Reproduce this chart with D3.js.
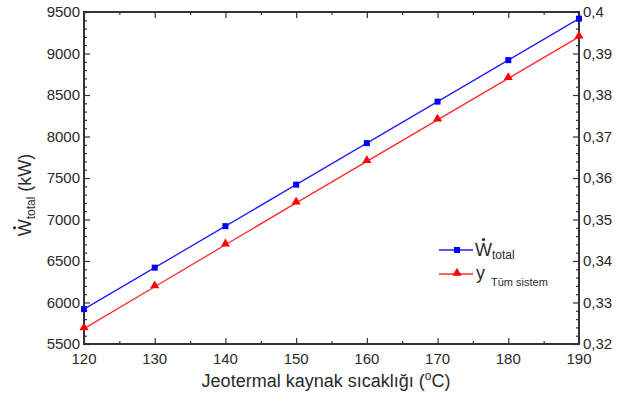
<!DOCTYPE html>
<html>
<head>
<meta charset="utf-8">
<script src="https://cdn.jsdelivr.net/npm/d3@7"></script>
<style>
  body { margin: 0; background: #fff; }
  text { font-family: "Liberation Sans", Arial, sans-serif; fill: #2a2a2a; }
</style>
</head>
<body>
<svg id="chart" width="622" height="396"></svg>
<script>
// data
const temps = [120, 130, 140, 150, 160, 170, 180, 190];
const wTotal = [5920, 6420, 6920, 7420, 7920, 8420, 8920, 9420];
const yTum = [0.3237, 0.3338, 0.3439, 0.3540, 0.3640, 0.3740, 0.3840, 0.3940];
const xTicks = [120, 130, 140, 150, 160, 170, 180, 190];
const leftTicks = [5500, 6000, 6500, 7000, 7500, 8000, 8500, 9000, 9500];
const rightTicks = [0.32, 0.33, 0.34, 0.35, 0.36, 0.37, 0.38, 0.39, 0.4];

const m = { left: 84, right: 579, top: 12, bottom: 344 };
const svg = d3.select('#chart');

const x = d3.scaleLinear().domain([120, 190]).range([m.left, m.right]);
const yL = d3.scaleLinear().domain([5500, 9500]).range([m.bottom, m.top]);
const yR = d3.scaleLinear().domain([0.32, 0.4]).range([m.bottom, m.top]);

const fmtR = v => String(+v.toFixed(2)).replace('.', ',');
const axisCol = '#333';

// minor ticks first, then majors
function minor(axis, vals) {
  return axis.tickValues(vals).tickSize(3).tickFormat('');
}
const minX = d3.range(125, 190, 10);
const minL = d3.range(5500, 9501, 100).filter(v => v % 500 !== 0);
const minR = d3.range(0, 41, 1).map(i => 0.32 + i * 0.002).filter((v, i) => i % 5 !== 0);

const gB = svg.append('g').attr('transform', `translate(0,${m.bottom})`);
gB.call(d3.axisTop(x).tickValues(xTicks).tickSize(6).tickFormat(''));
gB.append('g').call(minor(d3.axisTop(x), minX));
const gT = svg.append('g').attr('transform', `translate(0,${m.top})`);
gT.call(d3.axisBottom(x).tickValues(xTicks).tickSize(6).tickFormat(''));
gT.append('g').call(minor(d3.axisBottom(x), minX));
const gL = svg.append('g').attr('transform', `translate(${m.left},0)`);
gL.call(d3.axisRight(yL).tickValues(leftTicks).tickSize(6).tickFormat(''));
gL.append('g').call(minor(d3.axisRight(yL), minL));
const gR = svg.append('g').attr('transform', `translate(${m.right},0)`);
gR.call(d3.axisLeft(yR).tickValues(rightTicks).tickSize(6).tickFormat(''));
gR.append('g').call(minor(d3.axisLeft(yR), minR));

svg.selectAll('.domain').remove();
svg.selectAll('.tick line').attr('stroke', axisCol).attr('stroke-width', 1.2);

svg.append('rect')
  .attr('x', m.left).attr('y', m.top)
  .attr('width', m.right - m.left).attr('height', m.bottom - m.top)
  .attr('fill', 'none').attr('stroke', axisCol).attr('stroke-width', 2);

// tick labels
svg.append('g').selectAll('text').data(xTicks).join('text')
  .attr('x', d => x(d)).attr('y', m.bottom + 20)
  .attr('text-anchor', 'middle').attr('font-size', 15).text(d => d);
svg.append('g').selectAll('text').data(leftTicks).join('text')
  .attr('x', m.left - 4).attr('y', d => yL(d) + 5)
  .attr('text-anchor', 'end').attr('font-size', 15).text(d => d);
svg.append('g').selectAll('text').data(rightTicks).join('text')
  .attr('x', m.right + 4).attr('y', d => yR(d) + 5)
  .attr('text-anchor', 'start').attr('font-size', 15).text(d => fmtR(d));

// axis titles
const xt = svg.append('text').attr('x', 326).attr('y', 387)
  .attr('text-anchor', 'middle').attr('font-size', 18);
xt.append('tspan').text('Jeotermal kaynak sıcaklığı (');
xt.append('tspan').attr('font-size', 12).attr('dy', -7).text('o');
xt.append('tspan').attr('dy', 7).text('C)');

// y title: W with a dot above, centred by measuring
const yg = svg.append('g').attr('transform', 'translate(31,195) rotate(-90)');
const yt = yg.append('text').attr('font-size', 18);
const wSpan = yt.append('tspan').text('W');
yt.append('tspan').attr('font-size', 12).attr('dy', 4).text('total');
yt.append('tspan').attr('dy', -4).text(' (kW)');
const ylen = yt.node().getComputedTextLength();
yt.attr('x', -ylen / 2);
const wLen = wSpan.node().getComputedTextLength();
yg.append('circle').attr('cx', -ylen / 2 + wLen / 2).attr('cy', -16.5).attr('r', 1.6).attr('fill', '#2a2a2a');

// series
const lineB = d3.line().x((d, i) => x(temps[i])).y(d => yL(d));
const lineR = d3.line().x((d, i) => x(temps[i])).y(d => yR(d));
svg.append('path').datum(wTotal).attr('d', lineB)
  .attr('fill', 'none').attr('stroke', '#1f1fff').attr('stroke-width', 1.3);
svg.append('path').datum(yTum).attr('d', lineR)
  .attr('fill', 'none').attr('stroke', '#ff2a2a').attr('stroke-width', 1.3);

const sq = d3.symbol().type(d3.symbolSquare).size(36);
const tri = d3.symbol().type(d3.symbolTriangle).size(36);
svg.append('g').selectAll('path').data(wTotal).join('path')
  .attr('transform', (d, i) => `translate(${x(temps[i])},${yL(d)})`)
  .attr('d', sq).attr('fill', '#0000ff');
svg.append('g').selectAll('path').data(yTum).join('path')
  .attr('transform', (d, i) => `translate(${x(temps[i])},${yR(d) - 1})`)
  .attr('d', tri).attr('fill', '#ff0000');

// legend
const lg = svg.append('g');
lg.append('line').attr('x1', 439).attr('x2', 473).attr('y1', 250).attr('y2', 250)
  .attr('stroke', '#1f1fff').attr('stroke-width', 1.3);
lg.append('path').attr('transform', 'translate(457,250)').attr('d', sq).attr('fill', '#0000ff');
lg.append('line').attr('x1', 439).attr('x2', 473).attr('y1', 274).attr('y2', 274)
  .attr('stroke', '#ff2a2a').attr('stroke-width', 1.3);
lg.append('path').attr('transform', 'translate(457,273)').attr('d', tri).attr('fill', '#ff0000');
const l1 = lg.append('text').attr('x', 475).attr('y', 256).attr('font-size', 18);
const lw = l1.append('tspan').text('W');
l1.append('tspan').attr('font-size', 12).attr('dy', 3).text('total');
lg.append('circle').attr('cx', 475 + lw.node().getComputedTextLength() / 2).attr('cy', 239.5)
  .attr('r', 1.6).attr('fill', '#2a2a2a');
const l2 = lg.append('text').attr('x', 476).attr('y', 279).attr('font-size', 18);
l2.append('tspan').text('y');
l2.append('tspan').attr('font-size', 11).attr('dx', 6).attr('dy', 7).text('Tüm sistem');
</script>
</body>
</html>
